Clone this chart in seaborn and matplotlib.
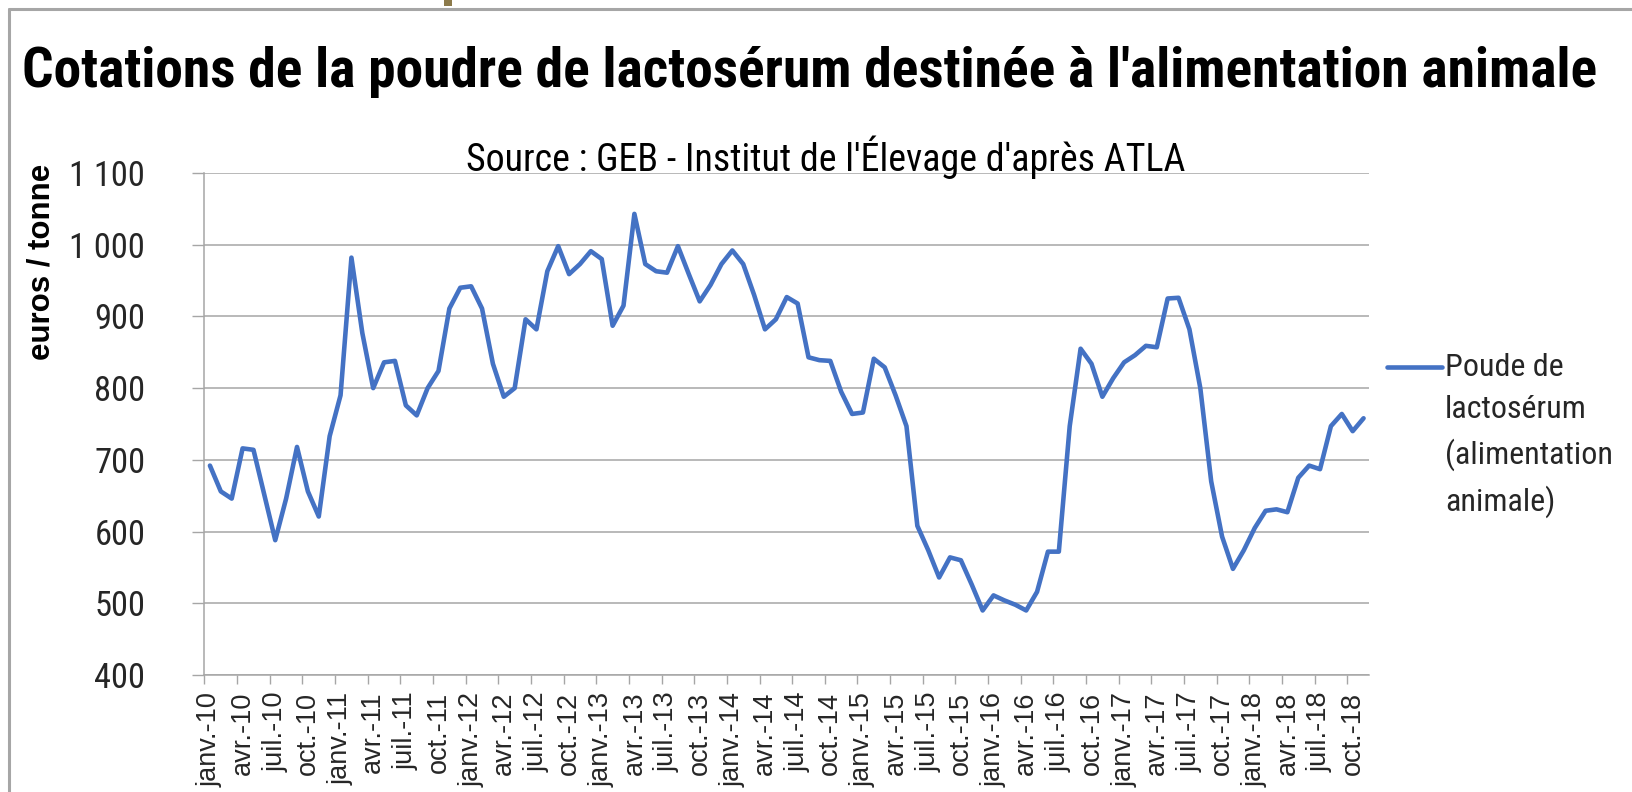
import numpy as np
import pandas as pd
import matplotlib
matplotlib.use("Agg")
import matplotlib.pyplot as plt
from matplotlib import font_manager
from matplotlib.font_manager import FontProperties
from matplotlib.lines import Line2D
from matplotlib.patches import Rectangle
import seaborn as sns

# --- data (monthly quotes, euros / tonne) ---
mois = ['janv.', 'févr.', 'mars', 'avr.', 'mai', 'juin',
        'juil.', 'août', 'sept.', 'oct.', 'nov.', 'déc.']
annees = ['10', '11', '12', '13', '14', '15', '16', '17', '18']
cotation = [
    692, 656, 646, 716, 714, 651, 588, 646, 718, 656, 621, 733,   # 2010
    790, 982, 877, 800, 836, 838, 776, 762, 800, 824, 911, 940,   # 2011
    942, 911, 834, 788, 800, 896, 882, 963, 998, 959, 973, 991,   # 2012
    980, 887, 915, 1043, 973, 963, 961, 998, 959, 921, 944, 973,  # 2013
    992, 973, 930, 882, 896, 927, 918, 843, 839, 838, 795, 764,   # 2014
    766, 841, 829, 790, 747, 608, 574, 536, 564, 560, 526, 490,   # 2015
    511, 504, 498, 490, 516, 572, 572, 747, 855, 834, 788, 814,   # 2016
    836, 846, 859, 857, 925, 926, 882, 800, 670, 593, 548, 574,   # 2017
    605, 629, 631, 627, 675, 692, 687, 747, 764, 740, 758,        # 2018
]
y_ticks = [400, 500, 600, 700, 800, 900, 1000, 1100]
y_labels = ['400', '500', '600', '700', '800', '900', '1 000', '1 100']
serie = "Poude de\nlactosérum\n(alimentation\nanimale)"
titre = "Cotations de la poudre de lactosérum destinée à l'alimentation animale"
source = "Source : GEB - Institut de l'Élevage d'après ATLA"

libelles = [f"{m}-{a}" for a in annees for m in mois][:len(cotation)]
df = pd.DataFrame({'rang': np.arange(len(cotation)), 'mois': libelles, 'cotation': cotation})


# --- fonts: the chart uses a narrow Arial, look for a condensed face ---
def police(gras):
    ordre = ['liberation sans narrow', 'arial narrow', 'roboto condensed',
             'open sans condensed', 'dejavu sans condensed']
    trouvees = {}
    for f in font_manager.fontManager.ttflist:
        nom = (f.name + ' ' + f.fname).lower().replace('-', ' ').replace('_', ' ')
        w = f.weight if isinstance(f.weight, int) else (700 if 'bold' in str(f.weight) else 400)
        if f.style != 'normal' or (w >= 600) != gras:
            continue
        cle = nom.replace('dejavusanscondensed', 'dejavu sans condensed').replace('robotocondensed', 'roboto condensed')
        for o in ordre:
            if o in cle and o not in trouvees:
                trouvees[o] = f.fname
    for o in ordre:
        if o in trouvees:
            return FontProperties(fname=trouvees[o])
    return FontProperties(family='Liberation Sans', weight='bold' if gras else 'normal')


p_reg = police(False)
p_bold = police(True)

sns.set_style("white")
plt.rcParams['font.family'] = ['Liberation Sans', 'DejaVu Sans']
gris = '#A6A6A6'
texte = '#262626'

W, H = 1633, 792
fig = plt.figure(figsize=(W / 100, H / 100), dpi=100)
fig.patch.set_facecolor('white')
rend = fig.canvas.get_renderer()


def taille(s, prop, cible, base=30):
    # font size giving the width (pixels) measured on the reference
    t = fig.text(0, 0, s, fontproperties=prop, fontsize=base)
    w = t.get_window_extent(rend).width
    t.remove()
    return base * cible / w


t_titre = min(40, taille(titre, p_bold, 1578))
t_source = min(28, taille(source, p_reg, 719))
t_ytick = min(25, taille('1 100', p_reg, 76))
t_leg = min(26, taille('(alimentation', p_reg, 168))

ax = fig.add_axes([204.5 / W, 1 - 675 / H, (1369 - 204.5) / W, (675 - 173) / H])

sns.lineplot(data=df, x='rang', y='cotation', ax=ax, color='#4472C4', linewidth=3.3,
             label=serie, solid_joinstyle='round', solid_capstyle='round')

ax.set_xlim(-0.5, len(cotation) - 0.5)
ax.set_ylim(400, 1100)
ax.set_xlabel('')
ax.set_ylabel('')

# y axis
ax.set_yticks(y_ticks)
ax.set_yticklabels(y_labels, color=texte)
for lab in ax.get_yticklabels():
    lab.set_fontproperties(p_reg)
    lab.set_fontsize(t_ytick)
ax.tick_params(axis='y', direction='out', length=8.6, width=1, color=gris, pad=34, left=True)
ax.grid(axis='y', color=gris, linewidth=1.1)
ax.grid(axis='x', visible=False)

# x axis: tick marks between categories, labels every 3 months
ax.set_xticks(np.arange(-0.5, len(cotation) - 1, 3))
ax.set_xticklabels([])
ax.set_xticks(np.arange(0, len(cotation), 3), minor=True)
ax.set_xticklabels(df['mois'][::3], minor=True, rotation=90, fontsize=19.5,
                   color=texte, va='top')
ax.tick_params(axis='x', which='major', direction='out', length=6.5, width=1, color=gris, bottom=True)
ax.tick_params(axis='x', which='minor', length=0, pad=12)

for s in ['top', 'right']:
    ax.spines[s].set_visible(False)
for s in ['left', 'bottom']:
    ax.spines[s].set_color(gris)
    ax.spines[s].set_linewidth(1.1)

# legend outside on the right, line beside the first text line
prop_leg = p_reg.copy()
prop_leg.set_size(t_leg)
leg = ax.legend(loc='upper left', bbox_to_anchor=(1387 / W, 1 - 353 / H),
                bbox_transform=fig.transFigure, frameon=False, borderpad=0,
                borderaxespad=0, handlelength=55 / (t_leg * 1.389), handleheight=1.2,
                handletextpad=0.1, prop=prop_leg)
for t in leg.get_texts():
    t.set_linespacing(1.39 * 26 / t_leg)
    t.set_color(texte)
try:
    for col in leg._legend_handle_box.get_children():
        for item in col.get_children():
            item.align = 'top'
except AttributeError:
    pass

# titles
fig.text(810 / W, 1 - 87 / H, titre, ha='center', va='baseline',
         fontproperties=p_bold, fontsize=t_titre, color='black')
fig.text(825.5 / W, 1 - 171 / H, source, ha='center', va='baseline',
         fontproperties=p_reg, fontsize=t_source, color='black')
fig.text(42 / W, 1 - 262 / H, "euros / tonne", rotation=90, ha='center', va='center',
         fontsize=22.5, fontweight='bold', color='black')

# frame of the original picture
fig.add_artist(Line2D([9 / W, 9 / W], [0, 1 - 9 / H], transform=fig.transFigure, color=gris, linewidth=2.2))
fig.add_artist(Line2D([9 / W, 1], [1 - 9 / H, 1 - 9 / H], transform=fig.transFigure, color=gris, linewidth=2.2))
fig.add_artist(Rectangle((444 / W, 1 - 6 / H), 8 / W, 6 / H, transform=fig.transFigure,
                         color='#8C7A4B', linewidth=0))

fig.savefig('out.png', dpi=100)
